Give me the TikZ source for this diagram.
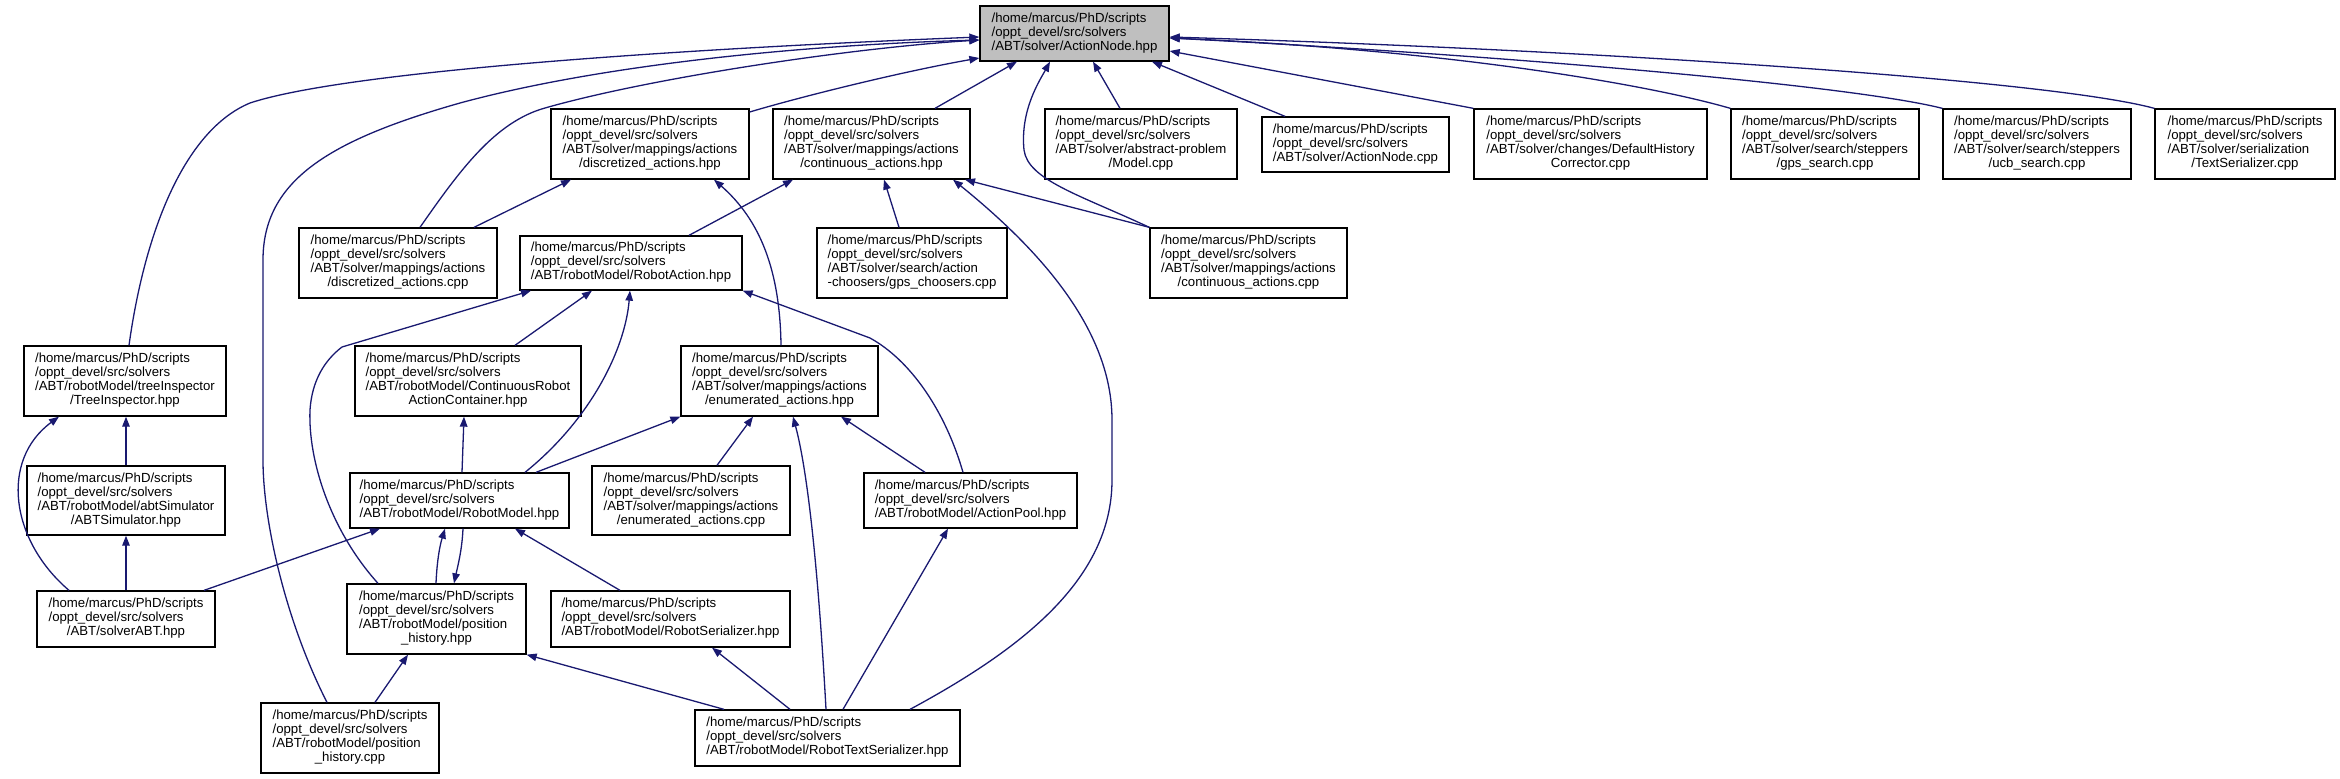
\documentclass[tikz,border=0pt]{standalone}
\usepackage{fontspec}
\newfontfamily\lsans{Liberation Sans}
\usetikzlibrary{arrows.meta,calc}
\definecolor{edgeblue}{HTML}{191970}
\definecolor{maingray}{HTML}{BFBFBF}
\newcommand\tb[1]{\begin{tabular}{@{}l@{}}#1\end{tabular}}
\newcommand\lc[1]{\multicolumn{1}{@{}c@{}}{#1}}
\newcommand\Hd{/home/marcus/PhD/scripts\\/oppt\_devel/src/solvers\\}
\newcommand\bx[7][]{%
 \pgfmathsetmacro\myBw{#5-#3}\pgfmathsetmacro\myBh{#6-#4}%
 \pgfmathsetmacro\myBx{(#3+#5)/2}\pgfmathsetmacro\myBy{(#4+#6)/2}%
 \node[box,#1,minimum width=\myBw pt,minimum height=\myBh pt] (#2) at (\myBx,\myBy) {\tb{#7}};}
\tikzset{
 box/.style={draw=black, line width=1.3pt, fill=white, inner sep=0pt,
   font=\lsans\fontsize{13.2}{14}\selectfont},
 dep/.style={draw=edgeblue, line width=1.3pt, -{Triangle[length=10pt,width=7.5pt]}}
}
\begin{document}
\begin{tikzpicture}[x=1pt,y=-1pt]
\path[use as bounding box] (0,0) rectangle (2340,779);
% row 0
\bx[fill=maingray]{main}{980}{6}{1169}{61}{\Hd /ABT/solver/ActionNode.hpp}
% row 1
\bx{disch}{551}{109}{749}{179}{\Hd /ABT/solver/mappings/actions\\\lc{/discretized\_actions.hpp}}
\bx{conth}{773}{109}{970}{179}{\Hd /ABT/solver/mappings/actions\\\lc{/continuous\_actions.hpp}}
\bx{model}{1045}{109}{1237}{179}{\Hd /ABT/solver/abstract-problem\\\lc{/Model.cpp}}
\bx{ancpp}{1262}{117}{1449}{172}{\Hd /ABT/solver/ActionNode.cpp}
\bx{dhc}{1474}{109}{1707}{179}{\Hd /ABT/solver/changes/DefaultHistory\\\lc{Corrector.cpp}}
\bx{gps}{1731}{109}{1919}{179}{\Hd /ABT/solver/search/steppers\\\lc{/gps\_search.cpp}}
\bx{ucb}{1943}{109}{2131}{179}{\Hd /ABT/solver/search/steppers\\\lc{/ucb\_search.cpp}}
\bx{ts}{2155}{109}{2335}{179}{\Hd /ABT/solver/serialization\\\lc{/TextSerializer.cpp}}
% row 2
\bx{discc}{299}{228}{497}{298}{\Hd /ABT/solver/mappings/actions\\\lc{/discretized\_actions.cpp}}
\bx{ra}{520}{236}{742}{290}{\Hd /ABT/robotModel/RobotAction.hpp}
\bx{gpsch}{817}{228}{1007}{298}{\Hd /ABT/solver/search/action\\\lc{-choosers/gps\_choosers.cpp}}
\bx{contc}{1150}{228}{1347}{298}{\Hd /ABT/solver/mappings/actions\\\lc{/continuous\_actions.cpp}}
% row 3
\bx{tree}{24}{346}{226}{416}{\Hd /ABT/robotModel/treeInspector\\\lc{/TreeInspector.hpp}}
\bx{crac}{355}{346}{581}{416}{\Hd /ABT/robotModel/ContinuousRobot\\\lc{ActionContainer.hpp}}
\bx{enumh}{681}{346}{878}{416}{\Hd /ABT/solver/mappings/actions\\\lc{/enumerated\_actions.hpp}}
% row 4
\bx{abtsim}{27}{466}{225}{535}{\Hd /ABT/robotModel/abtSimulator\\\lc{/ABTSimulator.hpp}}
\bx{rm}{350}{473}{569}{528}{\Hd /ABT/robotModel/RobotModel.hpp}
\bx{enumc}{592}{466}{790}{535}{\Hd /ABT/solver/mappings/actions\\\lc{/enumerated\_actions.cpp}}
\bx{ap}{864}{473}{1077}{528}{\Hd /ABT/robotModel/ActionPool.hpp}
% row 5
\bx{solver}{37}{591}{215}{647}{\Hd \lc{/ABT/solverABT.hpp}}
\bx{posh}{347}{584}{526}{654}{\Hd /ABT/robotModel/position\\\lc{\_history.hpp}}
\bx{rs}{551}{591}{790}{647}{\Hd /ABT/robotModel/RobotSerializer.hpp}
% row 6
\bx{posc}{261}{703}{439}{773}{\Hd /ABT/robotModel/position\\\lc{\_history.cpp}}
\bx{rts}{695}{710}{960}{766}{\Hd /ABT/robotModel/RobotTextSerializer.hpp}

% edges into main
\draw[dep] (129,0 |- tree.north) .. controls (145,230) and (185,130) .. (250,103) .. controls (350,70) and (700,48) .. (main.west |- 0,37);
\draw[dep] (327,0 |- posc.north) .. controls (285,620) and (263,520) .. (263,460) -- (263,260) .. controls (263,180) and (330,140) .. (460,103) .. controls (600,65) and (800,45) .. (main.west |- 0,40);
\draw[dep] (420,0 |- discc.north) .. controls (460,170) and (495,122) .. (545,108) .. controls (650,78) and (850,48) .. (main.west |- 0,40);
\draw[dep] (disch.east |- 0,112) .. controls (800,97) and (900,72) .. (main.west |- 0,58);
\draw[dep] (935,0 |- conth.north) -- (1017,0 |- main.south);
\draw[dep] (contc.north west) .. controls (1080,195) and (1028,180) .. (1024,150) .. controls (1020,110) and (1040,80) .. (1050,0 |- main.south);
\draw[dep] (1120,0 |- model.north) -- (1093,0 |- main.south);
\draw[dep] (1285,0 |- ancpp.north) -- (1152,0 |- main.south);
\draw[dep] (dhc.north west) -- (main.east |- 0,51);
\draw[dep] (gps.north west) .. controls (1650,85) and (1450,50) .. (main.east |- 0,38);
\draw[dep] (ucb.north west) .. controls (1850,85) and (1500,55) .. (main.east |- 0,38);
\draw[dep] (ts.north west) .. controls (2050,80) and (1600,50) .. (main.east |- 0,37);
% other edges
\draw[dep] (474,0 |- discc.north) -- (571,0 |- disch.south);
\draw[dep] (781,0 |- enumh.north) .. controls (780,270) and (760,220) .. (714,0 |- disch.south);
\draw[dep] (689,0 |- ra.north) -- (793,0 |- conth.south);
\draw[dep] (899,0 |- gpsch.north) -- (884,0 |- conth.south);
\draw[dep] (910,0 |- rts.north) .. controls (1020,650) and (1112,580) .. (1112,480) -- (1112,420) .. controls (1112,330) and (1040,250) .. (953,0 |- conth.south);
\draw[dep] (contc.north west) -- (965,0 |- conth.south);
\draw[dep] (525,0 |- rm.north) .. controls (590,420) and (625,350) .. (630,0 |- ra.south);
\draw[dep] (515,0 |- crac.north) -- (592,0 |- ra.south);
\draw[dep] (378,0 |- posh.north) .. controls (330,530) and (308,460) .. (310,410) .. controls (312,380) and (325,360) .. (342,347) -- (531,0 |- ra.south);
\draw[dep] (963,0 |- ap.north) .. controls (945,410) and (910,360) .. (870,338) -- (ra.south east);
\draw[dep] (126,0 |- abtsim.north) -- (126,0 |- tree.south);
\draw[dep] (69,0 |- solver.north) .. controls (10,540) and (0,460) .. (59,0 |- tree.south);
\draw[dep] (126,0 |- solver.north) -- (126,0 |- abtsim.south);
\draw[dep] (204,0 |- solver.north) -- (380,0 |- rm.south);
\draw[dep] (462,0 |- rm.north) -- (464,0 |- crac.south);
\draw[dep] (536,0 |- rm.north) -- (enumh.south west);
\draw[dep] (717,0 |- enumc.north) -- (753,0 |- enumh.south);
\draw[dep] (925,0 |- ap.north) -- (841,0 |- enumh.south);
\draw[dep] (826,0 |- rts.north) .. controls (820,600) and (810,480) .. (793,0 |- enumh.south);
\draw[dep] (436,0 |- posh.north) .. controls (437,560) and (440,545) .. (445,0 |- rm.south);
\draw[dep] (463,0 |- rm.south) .. controls (462,550) and (458,565) .. (454,0 |- posh.north);
\draw[dep] (620,0 |- rs.north) -- (515,0 |- rm.south);
\draw[dep] (375,0 |- posc.north) -- (408,0 |- posh.south);
\draw[dep] (724,0 |- rts.north) -- (posh.south east);
\draw[dep] (790,0 |- rts.north) -- (712,0 |- rs.south);
\draw[dep] (843,0 |- rts.north) -- (948,0 |- ap.south);
\end{tikzpicture}
\end{document}
